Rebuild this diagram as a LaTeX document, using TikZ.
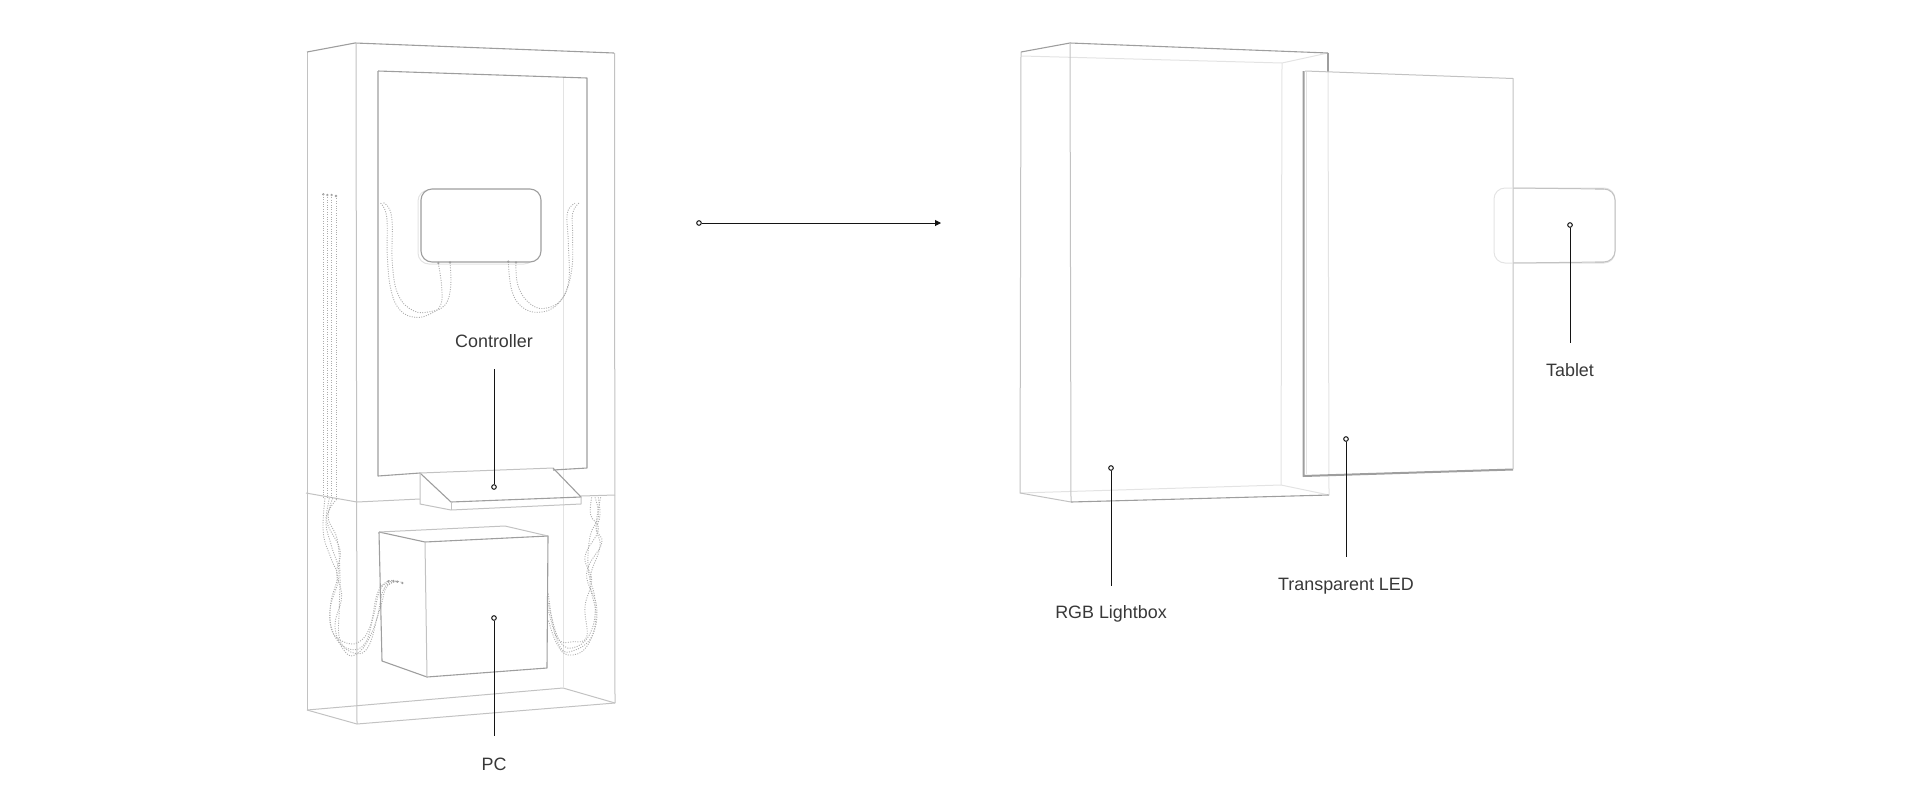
\documentclass[tikz,border=0pt]{standalone}
\usepackage{fontspec}
\setmainfont{Liberation Sans}
\usetikzlibrary{arrows.meta}
\definecolor{edgeA}{gray}{0.62}
\definecolor{edgeB}{gray}{0.76}
\definecolor{edgeC}{gray}{0.89}
\definecolor{ink}{gray}{0.08}
\definecolor{captionink}{gray}{0.22}
\definecolor{cable}{gray}{0.68}
\tikzset{
  px/.style={x=1pt,y=-1pt},
  strong/.style={draw=edgeA,line width=1.1pt,line join=round},
  mid/.style={draw=edgeB,line width=1pt,line join=round},
  faint/.style={draw=edgeC,line width=1pt,line join=round},
  cableline/.style={draw=cable,line width=.9pt,dash pattern=on 1pt off 1.4pt,smooth,tension=.7},
  cablehead/.style={circle,fill=edgeA,inner sep=0pt,minimum size=2.6pt},
  pin/.style={circle,draw=ink,fill=white,line width=1pt,inner sep=0pt,minimum size=4.6pt},
  leader/.style={draw=ink,line width=1pt},
  caption/.style={text=captionink,font=\fontsize{17.9}{20}\selectfont,inner sep=0pt,anchor=center},
  zoomA/.style={x=.33333pt,y=-.33333pt,shift={(290pt,-30pt)}},
  zoomB/.style={x=.33333pt,y=-.33333pt,shift={(290pt,-440pt)}}
}
\begin{document}
\begin{tikzpicture}[px]
\useasboundingbox (0,0) rectangle (1920,801);
% ---- left cabinet
\draw[mid] (307,52) -- (307,710);
\draw[strong] (307,52) -- (355,43) -- (614,53);
\draw[mid] (356,43) -- (357,724);
\draw[mid] (614.5,53) -- (615,703);
\draw[mid] (307,710) -- (357,724) -- (615,703);
\draw[mid] (307,710) -- (563,688) -- (615,703);
\draw[faint] (563,78) -- (563,688);
\draw[strong] (378,71) -- (587,78) -- (587,468) -- (553,470);
\draw[strong] (378,71) -- (378,476) -- (420,473);
\draw[mid] (306,493) -- (357,502) -- (420,499);
\draw[mid] (581,496) -- (615,495);
% bracket
\draw[strong] (420,473) -- (451,502) -- (581,497) -- (553,468);
\draw[mid] (420,473) -- (420,504) -- (451,510) -- (581,504) -- (581,497);
\draw[mid] (451,502) -- (451,510);
\draw[mid] (420,473) -- (553,468);
% PC
\draw[strong] (379,532) -- (425,542) -- (548,536) -- (547,668) -- (427,677) -- (382,661) -- (379,532);
\draw[mid] (425,542) -- (427,677);
\draw[mid] (379,532) -- (505,526) -- (548,536);
% controller box
\draw[faint,rounded corners=11pt] (418,190) rectangle (535,264);
\draw[strong,fill=white,rounded corners=11pt] (421,189) rectangle (541,262);
% upper cables
\begin{scope}[zoomA]
\draw[cableline] plot coordinates {(445,700) (455,770) (452,825) (420,852) (375,862) (330,840) (303,780) (292,680) (290,560) (270,518)};
\draw[cableline] plot coordinates {(480,698) (482,770) (465,825) (420,845) (370,842) (325,795) (307,700) (305,560) (280,518)};
\draw[cableline] plot coordinates {(655,695) (665,780) (695,830) (745,847) (800,825) (835,760) (835,640) (832,550) (855,520)};
\draw[cableline] plot coordinates {(678,698) (685,770) (725,825) (775,833) (820,800) (845,720) (848,620) (848,550) (868,518)};
\foreach \xa/\ya in {445/699,480/697,655/695,678/697}
  \node[cablehead] at (\xa,\ya) {};
\foreach \xa/\ya in {100/493,112/495,125/495,138/498}
  {\node[cablehead] at (\xa,\ya) {};
   \draw[cableline] (\xa,\ya) -- (\xa,1406);}
\end{scope}
% lower cables
\begin{scope}[zoomB]
\draw[cableline] plot coordinates {(105,175) (100,280) (125,360) (142,410) (122,490) (125,570) (160,605) (205,607) (240,560) (262,460) (290,425) (310,423)};
\draw[cableline] plot coordinates {(118,175) (108,250) (125,320) (147,405) (120,510) (135,590) (180,628) (225,610) (250,530) (270,450) (300,425) (322,425)};
\draw[cableline] plot coordinates {(128,175) (115,235) (142,300) (150,410) (148,500) (150,600) (195,640) (235,620) (262,530) (280,450) (310,425) (338,428)};
\draw[cableline] plot coordinates {(140,178) (110,240) (150,330) (140,400) (155,470) (135,560) (165,635) (200,642) (240,590) (272,500) (290,440) (325,424)};
\foreach \xa/\ya in {295/424,310/423,322/425,337/429}
  \node[cablehead] at (\xa,\ya) {};
\draw[cableline] plot coordinates {(905,172) (902,225) (925,270) (885,350) (905,420) (885,500) (890,590) (850,605) (800,590) (775,460)};
\draw[cableline] plot coordinates {(915,172) (925,230) (900,290) (895,390) (915,480) (905,570) (860,620) (810,605) (775,490)};
\draw[cableline] plot coordinates {(925,172) (930,225) (920,270) (935,310) (890,400) (920,500) (905,590) (850,632) (810,620) (775,510)};
\draw[cableline] plot coordinates {(932,172) (918,260) (930,320) (900,420) (918,530) (890,620) (835,645) (800,610) (775,540)};
\end{scope}
% ---- lightbox
\draw[faint] (1022,56) -- (1282,63) -- (1328,53);
\draw[faint] (1282,63) -- (1281,485);
\draw[faint] (1020,493) -- (1281,485) -- (1329,495);
\draw[mid] (1021,52) -- (1020,493) -- (1071,502);
\draw[strong] (1021,52) -- (1070,43) -- (1328,53);
\draw[mid] (1070,43) -- (1071,502);
\draw[strong] (1071,502) -- (1329,495);
\draw[strong] (1328,53) -- (1328,72);
\draw[faint] (1328,72) -- (1329,495);
% ---- transparent LED
\draw[draw=edgeA,line width=2pt,line join=round] (1303.5,71) -- (1303.5,476) -- (1513,469.5);
\draw[faint] (1306,72) -- (1306,474);
\draw[mid] (1305,71) -- (1513,78.5) -- (1513,469);
% ---- tablet
\draw[faint,rounded corners=11pt] (1494,188) rectangle (1615,263);
\draw[mid] (1513,188) -- (1604,189);
\draw[mid] (1513,263) -- (1604,262);
\draw[mid,rounded corners=11pt] (1595,189) -- (1615,189) -- (1615,262) -- (1595,262);
% ---- leaders and captions
\node[pin] (pcpin) at (494,618) {};
\node[caption] (pclabel) at (494,764) {PC};
\coordinate (pcend) at (494,736);
\draw[leader] (pcpin) -- (pcend);
\node[pin] (ctrlpin) at (494,487) {};
\node[caption] (ctrllabel) at (494,341) {Controller};
\coordinate (ctrlend) at (494,369);
\draw[leader] (ctrlpin) -- (ctrlend);
\node[pin] (rgbpin) at (1111,468) {};
\node[caption] (rgblabel) at (1111,614) {RGB Lightbox};
\coordinate (rgbend) at (1111,586);
\draw[leader] (rgbpin) -- (rgbend);
\node[pin] (ledpin) at (1346,439) {};
\node[caption] (ledlabel) at (1346,586) {Transparent LED};
\coordinate (ledend) at (1346,557);
\draw[leader] (ledpin) -- (ledend);
\node[pin] (tabpin) at (1570,225) {};
\node[caption] (tablabel) at (1570,370.5) {Tablet};
\coordinate (tabend) at (1570,343);
\draw[leader] (tabpin) -- (tabend);
% ---- arrow
\node[pin] (arrowstart) at (699,223) {};
\coordinate (arrowend) at (941,223);
\draw[leader,-{Stealth[length=6pt,width=6pt,inset=0pt]}] (arrowstart) -- (arrowend);
\end{tikzpicture}
\end{document}
